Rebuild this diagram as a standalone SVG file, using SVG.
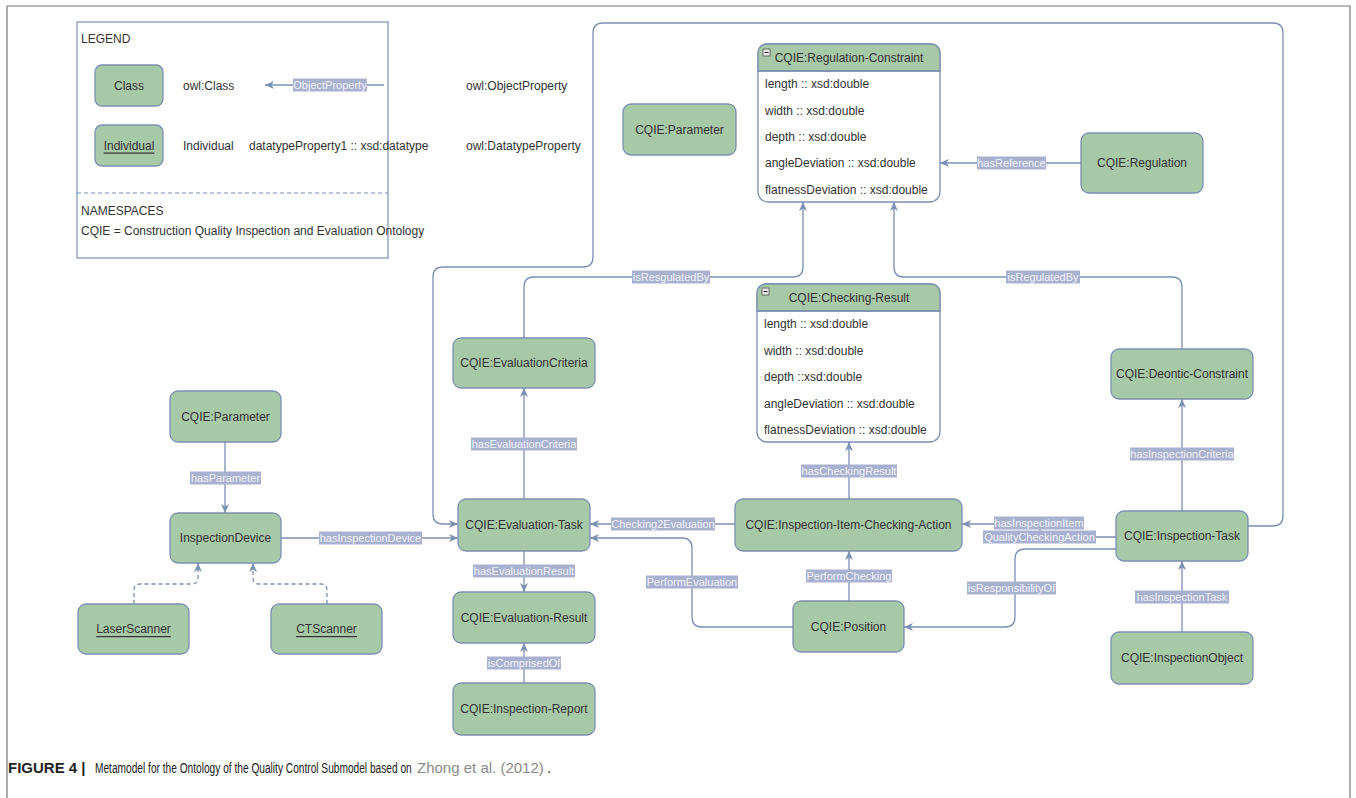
<svg xmlns="http://www.w3.org/2000/svg" width="1356" height="798" viewBox="0 0 1356 798">
  <style>
    text { font-family: "Liberation Sans", Arial, sans-serif; fill: #333; }
    .node { fill: #a8c9a8; stroke: #7b90b3; stroke-width: 1.3; }
    .nt { font-size: 12px; text-anchor: middle; dominant-baseline: central; }
    .cmp { fill: #fff; stroke: #7b90b3; stroke-width: 1.3; }
    .row { font-size: 12px; dominant-baseline: central; }
    .edge { fill: none; stroke: #7b90b3; stroke-width: 1.3; }
    .dash { stroke-dasharray: 4 3; }
    .lbg { fill: #a9b1d1; }
    .lt { font-size: 11px; fill: #f3f4fa; text-anchor: middle; dominant-baseline: central; }
    .leg { font-size: 12px; dominant-baseline: central; }
    .cap { font-size: 15px; fill: #222; }
  </style>
  <defs>
    <marker id="arrow" markerUnits="userSpaceOnUse" markerWidth="10" markerHeight="10" refX="9" refY="5" orient="auto">
      <path d="M0,1 L9,5 L0,9 L2.5,5 z" fill="#7b90b3"/>
    </marker>
  </defs>

  <rect width="1356" height="798" fill="#fff"/>
  <!-- figure frame -->
  <path d="M7,798 V6 H1350 V798" fill="none" stroke="#777" stroke-width="1.2"/>

  <!-- legend -->
  <g id="legend">
    <rect x="77" y="22" width="311" height="236" fill="#fff" stroke="#7b90b3" stroke-width="1.2"/>
    <text class="leg" x="81" y="39">LEGEND</text>
    <rect class="node" x="95" y="65" width="68" height="41" rx="7"/>
    <text class="nt" x="129" y="85.5">Class</text>
    <text class="leg" x="183" y="85.5">owl:Class</text>
    <path class="edge" d="M384,85 H265" marker-end="url(#arrow)"/>
    <rect class="lbg" x="293" y="78.5" width="74" height="13"/>
    <text class="lt" x="330" y="85">ObjectProperty</text>
    <text class="leg" x="466" y="85.5">owl:ObjectProperty</text>
    <rect class="node" x="95" y="125" width="68" height="41" rx="7"/>
    <text class="nt" x="129" y="145.5" text-decoration="underline">Individual</text>
    <text class="leg" x="183" y="145.5">Individual</text>
    <text class="leg" x="249" y="145.5">datatypeProperty1 :: xsd:datatype</text>
    <text class="leg" x="466" y="145.5">owl:DatatypeProperty</text>
    <line x1="77" y1="193" x2="388" y2="193" stroke="#7b90b3" stroke-width="1.2" stroke-dasharray="4 3"/>
    <text class="leg" x="81" y="211">NAMESPACES</text>
    <text class="leg" x="81" y="231">CQIE = Construction Quality Inspection and Evaluation Ontology</text>
  </g>

  <!-- connectors -->
  <g id="connectors">
    <!-- Inspection-Task to Evaluation-Task, around the top -->
    <path class="edge" d="M1248,526 H1273 Q1283,526 1283,516 V33 Q1283,23 1273,23 H603 Q593,23 593,33 V257 Q593,267 583,267 H443 Q433,267 433,277 V514 Q433,524 443,524 H458" marker-end="url(#arrow)"/>
    <!-- hasReference -->
    <path class="edge" d="M1081,163 H940" marker-end="url(#arrow)"/>
    <!-- isResgulatedBy -->
    <path class="edge" d="M524,338 V287 Q524,277 534,277 H793 Q803,277 803,267 V202" marker-end="url(#arrow)"/>
    <!-- isRegulatedBy -->
    <path class="edge" d="M1182,349 V287 Q1182,277 1172,277 H904 Q894,277 894,267 V202" marker-end="url(#arrow)"/>
    <!-- hasEvaluationCriteria -->
    <path class="edge" d="M524,499 V388" marker-end="url(#arrow)"/>
    <!-- hasCheckingResult -->
    <path class="edge" d="M849,499 V442" marker-end="url(#arrow)"/>
    <!-- hasInspectionCriteria -->
    <path class="edge" d="M1182,511 V399" marker-end="url(#arrow)"/>
    <!-- hasInspectionItemQualityCheckingAction -->
    <path class="edge" d="M1116,537 H1040 V524 H962" marker-end="url(#arrow)"/>
    <!-- isResponsibilityOf -->
    <path class="edge" d="M1116,549 H1025 Q1015,549 1015,559 V617 Q1015,627 1005,627 H904" marker-end="url(#arrow)"/>
    <!-- PerformChecking -->
    <path class="edge" d="M849,601 V551" marker-end="url(#arrow)"/>
    <!-- Checking2Evaluation -->
    <path class="edge" d="M735,524 H590" marker-end="url(#arrow)"/>
    <!-- PerformEvaluation -->
    <path class="edge" d="M793,627 H702 Q692,627 692,617 V548 Q692,538 682,538 H590" marker-end="url(#arrow)"/>
    <!-- hasEvaluationResult -->
    <path class="edge" d="M524,551 V592" marker-end="url(#arrow)"/>
    <!-- isComprisedOf -->
    <path class="edge" d="M524,683 V643" marker-end="url(#arrow)"/>
    <!-- hasInspectionTask -->
    <path class="edge" d="M1182,632 V561" marker-end="url(#arrow)"/>
    <!-- hasParameter -->
    <path class="edge" d="M225,442 V513" marker-end="url(#arrow)"/>
    <!-- hasInspectionDevice -->
    <path class="edge" d="M281,538 H458" marker-end="url(#arrow)"/>
    <!-- instance links -->
    <path class="edge dash" d="M134,604 V590 Q134,584 140,584 H192 Q198,584 198,578 V563" marker-end="url(#arrow)"/>
    <path class="edge dash" d="M327,604 V590 Q327,584 321,584 H259 Q253,584 253,578 V563" marker-end="url(#arrow)"/>

    <!-- labels -->
    <rect class="lbg" x="977" y="156.5" width="69" height="13"/><text class="lt" x="1011.5" y="163">hasReference</text>
    <rect class="lbg" x="632" y="270.5" width="78" height="13"/><text class="lt" x="671" y="277">isResgulatedBy</text>
    <rect class="lbg" x="1006" y="270.5" width="74" height="13"/><text class="lt" x="1043" y="277">isRegulatedBy</text>
    <rect class="lbg" x="471" y="437.5" width="106" height="13"/><text class="lt" x="524" y="444">hasEvaluationCriteria</text>
    <rect class="lbg" x="801" y="464.5" width="96" height="13"/><text class="lt" x="849" y="471">hasCheckingResult</text>
    <rect class="lbg" x="1130" y="447.5" width="104" height="13"/><text class="lt" x="1182" y="454">hasInspectionCriteria</text>
    <rect class="lbg" x="994" y="516.5" width="90" height="13"/><text class="lt" x="1039" y="523">hasInspectionItem</text>
    <rect class="lbg" x="983" y="530.5" width="113" height="13"/><text class="lt" x="1039.5" y="537">QualityCheckingAction</text>
    <rect class="lbg" x="967" y="581.5" width="89" height="13"/><text class="lt" x="1011.5" y="588">isResponsibilityOf</text>
    <rect class="lbg" x="806" y="569.5" width="86" height="13"/><text class="lt" x="849" y="576">PerformChecking</text>
    <rect class="lbg" x="611" y="517.5" width="104" height="13"/><text class="lt" x="663" y="524">Checking2Evaluation</text>
    <rect class="lbg" x="646" y="575.5" width="92" height="13"/><text class="lt" x="692" y="582">PerformEvaluation</text>
    <rect class="lbg" x="473" y="564.5" width="102" height="13"/><text class="lt" x="524" y="571">hasEvaluationResult</text>
    <rect class="lbg" x="487" y="656.5" width="74" height="13"/><text class="lt" x="524" y="663">isComprisedOf</text>
    <rect class="lbg" x="1135" y="590.5" width="94" height="13"/><text class="lt" x="1182" y="597">hasInspectionTask</text>
    <rect class="lbg" x="190" y="471.5" width="71" height="13"/><text class="lt" x="225.5" y="478">hasParameter</text>
    <rect class="lbg" x="319" y="531.5" width="103" height="13"/><text class="lt" x="370.5" y="538">hasInspectionDevice</text>
  </g>

  <!-- class nodes -->
  <g id="parameter-top"><rect class="node" x="623" y="104" width="113" height="51" rx="8"/><text class="nt" x="679.5" y="129.5">CQIE:Parameter</text></g>

  <g id="regulation-constraint">
    <rect class="cmp" x="758" y="44" width="182" height="158" rx="10"/>
    <path class="node" d="M758,71 V54 Q758,44 768,44 H930 Q940,44 940,54 V71 Z"/>
    <line x1="758" y1="71" x2="940" y2="71" stroke="#7b90b3" stroke-width="1.3"/>
    <rect x="763" y="49" width="7" height="7" fill="#e6e6e6" stroke="#555" stroke-width="0.8"/>
    <line x1="764.5" y1="52.5" x2="768.5" y2="52.5" stroke="#333" stroke-width="1"/>
    <text class="nt" x="849" y="58">CQIE:Regulation-Constraint</text>
    <text class="row" x="765" y="84">length :: xsd:double</text>
    <text class="row" x="765" y="111">width :: xsd:double</text>
    <text class="row" x="765" y="137">depth :: xsd:double</text>
    <text class="row" x="765" y="163">angleDeviation :: xsd:double</text>
    <text class="row" x="765" y="190">flatnessDeviation :: xsd:double</text>
  </g>

  <g id="regulation"><rect class="node" x="1081" y="133" width="122" height="60" rx="8"/><text class="nt" x="1142" y="163">CQIE:Regulation</text></g>

  <g id="evaluation-criteria"><rect class="node" x="453" y="338" width="142" height="50" rx="8"/><text class="nt" x="524" y="363">CQIE:EvaluationCriteria</text></g>

  <g id="checking-result">
    <rect class="cmp" x="757" y="284" width="183" height="158" rx="10"/>
    <path class="node" d="M757,311 V294 Q757,284 767,284 H930 Q940,284 940,294 V311 Z"/>
    <line x1="757" y1="311" x2="940" y2="311" stroke="#7b90b3" stroke-width="1.3"/>
    <rect x="762" y="288" width="7" height="7" fill="#e6e6e6" stroke="#555" stroke-width="0.8"/>
    <line x1="763.5" y1="291.5" x2="767.5" y2="291.5" stroke="#333" stroke-width="1"/>
    <text class="nt" x="849" y="298">CQIE:Checking-Result</text>
    <text class="row" x="764" y="324">length :: xsd:double</text>
    <text class="row" x="764" y="351">width :: xsd:double</text>
    <text class="row" x="764" y="377">depth ::xsd:double</text>
    <text class="row" x="764" y="404">angleDeviation :: xsd:double</text>
    <text class="row" x="764" y="430">flatnessDeviation :: xsd:double</text>
  </g>

  <g id="deontic-constraint"><rect class="node" x="1111" y="349" width="142" height="50" rx="8"/><text class="nt" x="1182" y="374">CQIE:Deontic-Constraint</text></g>

  <g id="parameter"><rect class="node" x="170" y="391" width="111" height="51" rx="8"/><text class="nt" x="225.5" y="416.5">CQIE:Parameter</text></g>

  <g id="inspection-device"><rect class="node" x="170" y="513" width="111" height="50" rx="8"/><text class="nt" x="225.5" y="538">InspectionDevice</text></g>

  <g id="evaluation-task"><rect class="node" x="458" y="499" width="132" height="52" rx="8"/><text class="nt" x="524" y="525">CQIE:Evaluation-Task</text></g>

  <g id="inspection-item-checking-action"><rect class="node" x="735" y="499" width="227" height="52" rx="8"/><text class="nt" x="848.5" y="525">CQIE:Inspection-Item-Checking-Action</text></g>

  <g id="inspection-task"><rect class="node" x="1116" y="511" width="132" height="50" rx="8"/><text class="nt" x="1182" y="536">CQIE:Inspection-Task</text></g>

  <g id="evaluation-result"><rect class="node" x="453" y="592" width="142" height="51" rx="8"/><text class="nt" x="524" y="617.5">CQIE:Evaluation-Result</text></g>

  <g id="position"><rect class="node" x="793" y="601" width="111" height="51" rx="8"/><text class="nt" x="848.5" y="627">CQIE:Position</text></g>

  <g id="inspection-object"><rect class="node" x="1111" y="632" width="142" height="52" rx="8"/><text class="nt" x="1182" y="658">CQIE:InspectionObject</text></g>

  <g id="inspection-report"><rect class="node" x="453" y="683" width="142" height="52" rx="8"/><text class="nt" x="524" y="709">CQIE:Inspection-Report</text></g>

  <!-- individuals -->
  <g id="laser-scanner"><rect class="node" x="78" y="604" width="111" height="50" rx="8"/><text class="nt" x="133.5" y="629" text-decoration="underline">LaserScanner</text></g>
  <g id="ct-scanner"><rect class="node" x="271" y="604" width="111" height="50" rx="8"/><text class="nt" x="326.5" y="629" text-decoration="underline">CTScanner</text></g>

  <!-- caption -->
  <g id="caption">
    <text class="cap" x="8" y="773" font-weight="bold">FIGURE 4 |</text>
    <text class="cap" transform="translate(95,773) scale(0.678,1)">Metamodel for the Ontology of the Quality Control Submodel based on</text>
    <text class="cap" x="417" y="773" style="fill:#8a8a8a">Zhong et al. (2012)</text>
    <text class="cap" x="547" y="773">.</text>
  </g>
</svg>
